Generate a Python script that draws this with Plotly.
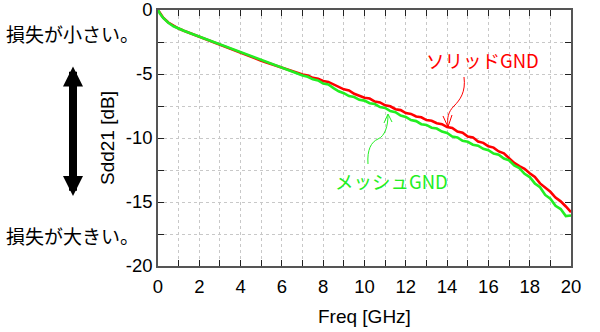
import plotly.graph_objects as go

# Differential insertion loss Sdd21 of two differential pairs
freq_ghz = [0.0, 0.1, 0.25, 0.5, 0.75, 1.0, 1.25, 1.5, 1.75, 2.0,
            2.25, 2.5, 2.75, 3.0, 3.25, 3.5, 3.75, 4.0, 4.25, 4.5,
            4.75, 5.0, 5.25, 5.5, 5.75, 6.0, 6.25, 6.5, 6.75, 7.0,
            7.25, 7.5, 7.75, 8.0, 8.25, 8.5, 8.75, 9.0, 9.25, 9.5,
            9.75, 10.0, 10.25, 10.5, 10.75, 11.0, 11.25, 11.5, 11.75, 12.0,
            12.25, 12.5, 12.75, 13.0, 13.25, 13.5, 13.75, 14.0, 14.25, 14.5,
            14.75, 15.0, 15.25, 15.5, 15.75, 16.0, 16.25, 16.5, 16.75, 17.0,
            17.25, 17.5, 17.75, 18.0, 18.25, 18.5, 18.75, 19.0, 19.25, 19.5,
            19.75, 20.0]

solid_gnd_db = [0.0, -0.28, -0.6, -0.98, -1.25, -1.45, -1.62, -1.78, -1.94, -2.1,
                -2.24, -2.38, -2.55, -2.72, -2.86, -3.02, -3.18, -3.36, -3.5, -3.64,
                -3.8, -3.96, -4.1, -4.24, -4.38, -4.52, -4.64, -4.78, -4.92, -5.04,
                -5.12, -5.3, -5.38, -5.55, -5.62, -5.82, -6.02, -6.2, -6.28, -6.55,
                -6.7, -6.85, -6.92, -7.15, -7.22, -7.45, -7.52, -7.75, -7.82, -8.05,
                -8.12, -8.32, -8.38, -8.6, -8.65, -8.85, -8.92, -9.15, -9.22, -9.5,
                -9.58, -9.88, -9.95, -10.28, -10.38, -10.65, -10.75, -11.05, -11.2, -11.6,
                -11.95, -12.2, -12.4, -12.75, -13.05, -13.55, -13.9, -14.2, -14.65, -14.95,
                -15.35, -15.8]

mesh_gnd_db = [0.0, -0.3, -0.62, -1.0, -1.27, -1.47, -1.62, -1.77, -1.92, -2.08,
               -2.22, -2.36, -2.5, -2.66, -2.8, -2.95, -3.1, -3.28, -3.42, -3.58,
               -3.73, -3.9, -4.04, -4.18, -4.34, -4.5, -4.64, -4.8, -4.96, -5.12,
               -5.22, -5.42, -5.5, -5.75, -5.82, -6.1, -6.35, -6.5, -6.72, -6.8,
               -7.02, -7.08, -7.28, -7.35, -7.58, -7.65, -7.9, -7.98, -8.25, -8.35,
               -8.6, -8.68, -8.92, -8.98, -9.2, -9.26, -9.5, -9.6, -9.88, -9.95,
               -10.22, -10.3, -10.52, -10.6, -10.85, -10.95, -11.22, -11.3, -11.6, -11.75,
               -12.15, -12.35, -12.8, -13.05, -13.55, -13.85, -14.45, -14.75, -15.3, -15.55,
               -16.1, -16.05]

x_ticks = list(range(0, 21))
x_tick_text = [str(v) if v % 2 == 0 else "" for v in x_ticks]
y_ticks = [0, -2.5, -5, -7.5, -10, -12.5, -15, -17.5, -20]
y_tick_text = ["0", "", "-5", "", "-10", "", "-15", "", "-20"]

RED = "#ff0000"
GREEN = "#22ee22"
NUM_FONT = "Liberation Sans, Arial, sans-serif"
JP_FONT = "Noto Sans CJK JP, sans-serif"

W, H = 600, 332
ML, MR, MT, MB = 158, 29, 10, 66
PW, PH = W - ML - MR, H - MT - MB


def to_paper(x, y):
    """Convert page pixels to paper coordinates."""
    return (x - ML) / PW, 1 - (y - MT) / PH


def path(points_cmd):
    """Build an SVG path in paper coordinates from (cmd, [(x, y), ...]) pixel pairs."""
    out = []
    for cmd, pts in points_cmd:
        coords = " ".join("%.5f,%.5f" % to_paper(x, y) for x, y in pts)
        out.append(cmd + coords)
    return " ".join(out)


fig = go.Figure()
fig.add_trace(go.Scatter(x=freq_ghz, y=solid_gnd_db, mode="lines",
                         line=dict(color=RED, width=2.6), name="ソリッドGND"))
fig.add_trace(go.Scatter(x=freq_ghz, y=mesh_gnd_db, mode="lines",
                         line=dict(color=GREEN, width=2.6), name="メッシュGND"))

axis_common = dict(
    automargin=False,
    ticklabeloverflow="allow",
    showline=True, mirror="ticks", linecolor="#555555", linewidth=1.5,
    ticks="inside", ticklen=6, tickcolor="#222222", tickwidth=1.3,
    showgrid=True, gridcolor="#c8c8c8", griddash="dot", gridwidth=1,
    zeroline=False,
    tickfont=dict(family=NUM_FONT, size=18.5, color="#000000"),
)

fig.update_xaxes(range=[0, 20], tickmode="array", tickvals=x_ticks,
                 ticktext=x_tick_text, ticklabelstandoff=3, **axis_common)
fig.update_yaxes(range=[-20, 0], tickmode="array", tickvals=y_ticks,
                 ticktext=y_tick_text, **axis_common)

shapes = []
# thin curved leader for the solid-GND curve
shapes.append(dict(type="path", xref="paper", yref="paper",
                   path=path([("M", [(464, 77)]),
                              ("C", [(466, 92), (460, 100), (454, 106)]),
                              ("S", [(447, 118), (448, 126)])]),
                   line=dict(color=RED, width=1)))
shapes.append(dict(type="path", xref="paper", yref="paper",
                   path=path([("M", [(443, 116)]), ("L", [(448, 127)]), ("L", [(452, 115)])]),
                   line=dict(color=RED, width=1)))
# thin curved leader for the mesh-GND curve
shapes.append(dict(type="path", xref="paper", yref="paper",
                   path=path([("M", [(368, 164)]),
                              ("C", [(367, 150), (371, 142), (378, 139)]),
                              ("S", [(388, 126), (388, 115)])]),
                   line=dict(color=GREEN, width=1)))
shapes.append(dict(type="path", xref="paper", yref="paper",
                   path=path([("M", [(384, 123)]), ("L", [(388, 114)]), ("L", [(392, 122)])]),
                   line=dict(color=GREEN, width=1)))


def label(text, x, y, color="#000000", size=17, family=JP_FONT, angle=0):
    px, py = to_paper(x, y)
    return dict(text=text, x=px, y=py, xref="paper", yref="paper",
                showarrow=False, xanchor="center", yanchor="middle",
                textangle=angle, font=dict(family=family, size=size, color=color))


annotations = [
    label("ソリッドGND", 482, 60, color=RED, size=18.5),
    label("メッシュGND", 391, 181, color=GREEN, size=18.5),
    label("損失が小さい。", 72, 33, size=19),
    label("損失が大きい。", 72, 235, size=19),
    label("Sdd21 [dB]", 107, 138, size=19, family=NUM_FONT, angle=-90),
    label("Freq [GHz]", 364, 316, size=19, family=NUM_FONT),
]

# double-headed arrow between the two loss labels
tip_x, tip_y = to_paper(73, 196)
annotations.append(dict(
    text="", x=tip_x, y=tip_y, xref="paper", yref="paper",
    showarrow=True, ax=0, ay=-131, axref="pixel", ayref="pixel",
    arrowside="end+start", arrowhead=2, startarrowhead=2,
    arrowwidth=8, arrowsize=0.5, startarrowsize=0.5,
    arrowcolor="#000000", standoff=0, startstandoff=0,
))

fig.update_layout(
    width=W, height=H,
    margin=dict(l=ML, r=MR, t=MT, b=MB),
    paper_bgcolor="#ffffff", plot_bgcolor="#ffffff",
    showlegend=False,
    shapes=shapes,
    annotations=annotations,
)

fig.write_html("out.html")
